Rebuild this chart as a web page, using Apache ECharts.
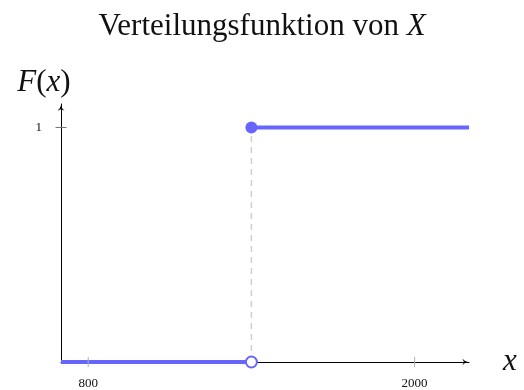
<!DOCTYPE html>
<html>
<head>
<meta charset="utf-8">
<script src="https://cdn.jsdelivr.net/npm/echarts@6/dist/echarts.min.js"></script>
<style>
  html, body { margin: 0; padding: 0; background: #fff; }
  #chart { width: 524px; height: 390px; }
</style>
</head>
<body>
<div id="chart"></div>
<script>
// Step function F(x): 0 before the jump, 1 after it
const xStart = 700;
const xJump = 1400;
const xEnd = 2200;
const levelBefore = 0;
const levelAfter = 1;

// Tick positions and labels
const xTicks = [800, 2000];
const yTicks = [1];

const blue = '#6666ff';
const serif = 'Liberation Serif';

// LaTeX-style arrow head pointing up
const arrowPath = 'path://M5,0 Q5.6,4.2 10,8 Q6.5,5.8 5,5.8 Q3.5,5.8 0,8 Q4.4,4.2 5,0 Z';

const chart = echarts.init(document.getElementById('chart'), null, { renderer: 'canvas' });

function tickRenderer(dir) {
  return function (params, api) {
    const v = api.value(0);
    const p = dir === 'x' ? api.coord([v, 0]) : api.coord([xStart, v]);
    const shape = dir === 'x'
      ? { x1: p[0], y1: p[1] - 5, x2: p[0], y2: p[1] + 5 }
      : { x1: p[0] - 5.5, y1: p[1], x2: p[0] + 5.5, y2: p[1] };
    return {
      type: 'line',
      shape: shape,
      style: { stroke: dir === 'x' ? '#b0b0b0' : '#707070', lineWidth: 1 }
    };
  };
}

const mathIt = { fontFamily: serif, fontStyle: 'italic', fontSize: 31, color: '#111' };
const mathUp = { fontFamily: serif, fontStyle: 'normal', fontSize: 31, color: '#111' };

chart.setOption({
  animation: false,
  title: {
    text: '{a|Verteilungsfunktion von }{b|X}',
    left: 'center',
    top: 6,
    textStyle: {
      rich: {
        a: { fontFamily: serif, fontSize: 31, fontWeight: 'normal', color: '#111' },
        b: { fontFamily: serif, fontSize: 31, fontWeight: 'normal', fontStyle: 'italic', color: '#111' }
      }
    }
  },
  grid: { left: 61, right: 55, top: 104, bottom: 28 },
  xAxis: {
    type: 'value',
    min: xStart,
    max: xEnd,
    name: 'x',
    nameLocation: 'end',
    nameGap: 34,
    nameTextStyle: { fontFamily: serif, fontStyle: 'italic', fontSize: 31, color: '#111', verticalAlign: 'middle', padding: [0, 0, 8, 0] },
    axisLine: {
      show: true,
      onZero: false,
      symbol: ['none', arrowPath],
      symbolSize: [7, 8],
      symbolOffset: [0, -4],
      lineStyle: { color: '#000', width: 1 }
    },
    axisTick: { show: false },
    splitLine: { show: false },
    axisLabel: {
      customValues: xTicks,
      formatter: v => String(v),
      margin: 15,
      fontFamily: serif,
      fontSize: 13,
      color: '#111'
    }
  },
  yAxis: {
    type: 'value',
    min: 0,
    max: 1.1,
    name: '{i|F}{u|(}{i|x}{u|)}',
    nameLocation: 'end',
    nameGap: 6,
    nameTextStyle: { padding: [0, 34, 0, 0], rich: { i: mathIt, u: mathUp } },
    axisLine: {
      show: true,
      onZero: false,
      symbol: ['none', arrowPath],
      symbolSize: [7, 8],
      symbolOffset: [0, -4],
      lineStyle: { color: '#000', width: 1 }
    },
    axisTick: { show: false },
    splitLine: { show: false },
    axisLabel: {
      customValues: yTicks,
      formatter: v => String(v),
      margin: 19,
      fontFamily: serif,
      fontSize: 13,
      color: '#111'
    }
  },
  series: [
    {
      type: 'line',
      data: [[xJump, levelBefore], [xJump, levelAfter]],
      symbol: 'none',
      lineStyle: { color: '#cfcfcf', width: 1.5, type: [6, 5] },
      z: 1
    },
    {
      type: 'line',
      data: [[xStart, levelBefore], [xJump, levelBefore]],
      symbol: 'none',
      lineStyle: { color: blue, width: 4 },
      z: 2
    },
    {
      type: 'line',
      data: [[xJump, levelAfter], [xEnd, levelAfter]],
      symbol: 'none',
      lineStyle: { color: blue, width: 4 },
      z: 2
    },
    {
      type: 'custom',
      renderItem: tickRenderer('x'),
      data: xTicks.map(v => [v]),
      z: 3
    },
    {
      type: 'custom',
      renderItem: tickRenderer('y'),
      data: yTicks.map(v => [v]),
      z: 3
    },
    {
      type: 'scatter',
      data: [[xJump, levelAfter]],
      symbol: 'circle',
      symbolSize: 12,
      itemStyle: { color: blue, opacity: 1 },
      z: 4
    },
    {
      type: 'scatter',
      data: [[xJump, levelBefore]],
      symbol: 'circle',
      symbolSize: 11,
      itemStyle: { color: '#fff', borderColor: blue, borderWidth: 2, opacity: 1 },
      z: 4
    }
  ]
});
</script>
</body>
</html>
